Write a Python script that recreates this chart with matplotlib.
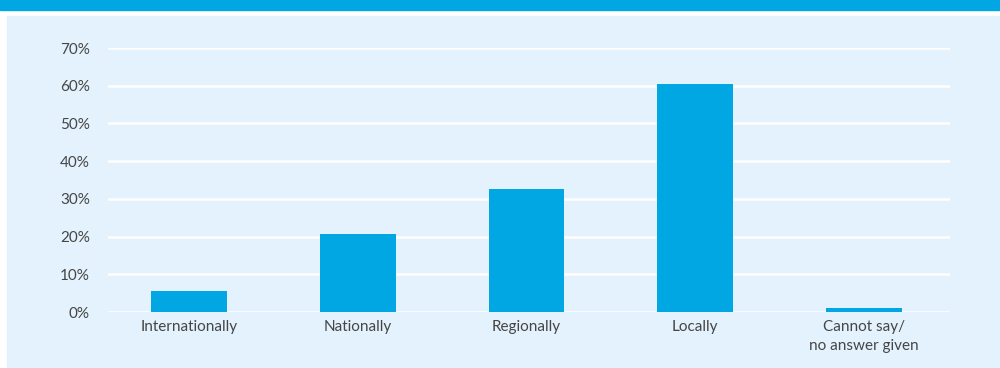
import matplotlib.pyplot as plt
from matplotlib.patches import Rectangle
import numpy as np

categories = ["Internationally", "Nationally", "Regionally", "Locally",
              "Cannot say/\nno answer given"]
shares = [5.6, 20.7, 32.6, 60.4, 1.0]
yticks = [0, 10, 20, 30, 40, 50, 60, 70]

BAR = "#00a7e2"
PANEL = "#e3f2fc"
TEXT = "#454545"

plt.rcParams["font.family"] = ["Lato", "DejaVu Sans"]

fig = plt.figure(figsize=(10, 3.68), dpi=100)
fig.patch.set_facecolor("white")

# header strip and the light background panel
fig.patches.append(Rectangle((0, 1 - 10 / 368), 1, 10 / 368,
                             transform=fig.transFigure, color=BAR, zorder=0))
fig.patches.append(Rectangle((7 / 1000, 0), 1, 1 - 16 / 368,
                             transform=fig.transFigure, color=PANEL, zorder=0))

ax = fig.add_axes([0.108, 1 - 312 / 368, 0.842, (312 - 48) / 368])
ax.set_zorder(2)
ax.patch.set_alpha(0)

x = np.arange(len(categories))
ax.bar(x, shares, width=0.45, color=BAR, zorder=3)

ax.set_ylim(0, 70)
ax.set_xlim(-0.48, 4.51)
ax.set_yticks(yticks)
ax.set_yticklabels([f"{t}%" for t in yticks])
ax.set_xticks(x)
ax.set_xticklabels(categories, linespacing=1.4)

ax.grid(axis="y", color="white", linewidth=1.8, zorder=1)
ax.set_axisbelow(True)
for s in ax.spines.values():
    s.set_visible(False)
ax.tick_params(axis="both", length=0, labelsize=11, colors=TEXT)
ax.tick_params(axis="y", pad=13)
ax.tick_params(axis="x", pad=6)

fig.savefig("out.png", dpi=100)
